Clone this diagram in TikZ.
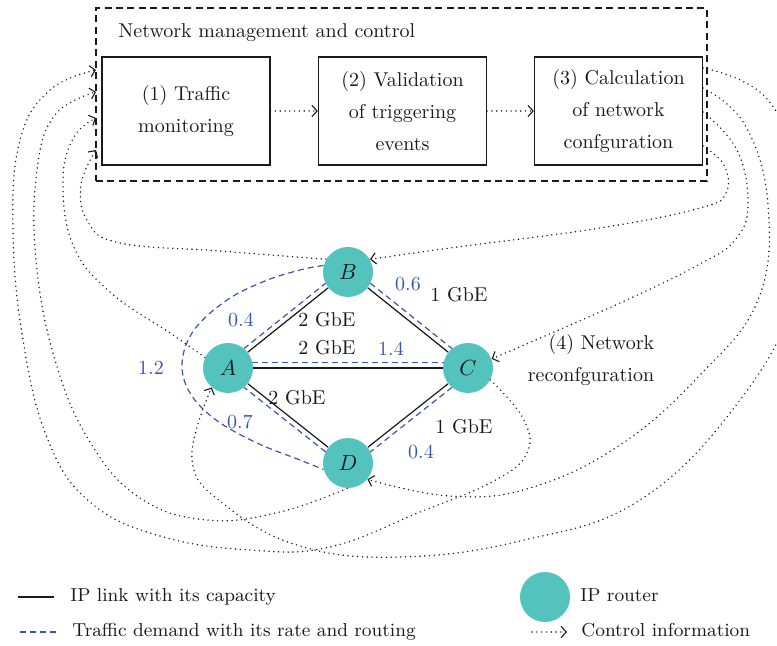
\documentclass[tikz,border=0pt]{standalone}
\usetikzlibrary{arrows.meta,calc}
\definecolor{routerteal}{HTML}{55C3BD}
\definecolor{demandblue}{HTML}{3A55AC}
\definecolor{ink}{HTML}{1A1A1A}
\pgfdeclarelayer{back}
\pgfsetlayers{back,main}
\begin{document}
\begin{tikzpicture}[x=0.5pt,y=-0.5pt,
  font=\fontsize{10}{16}\selectfont, text=ink,
  procbox/.style={draw=ink, line width=0.65pt, minimum width=84pt, minimum height=54pt, align=center, inner sep=0pt},
  ctrlframe/.style={draw=ink, line width=0.65pt, dash pattern=on 3.5pt off 2.2pt, minimum width=305.5pt, minimum height=86.5pt, inner sep=0pt},
  routernode/.style={circle, fill=routerteal, minimum size=25pt, inner sep=0pt, font=\fontsize{10.5}{12}\selectfont},
  link/.style={draw=ink, line width=0.6pt},
  demand/.style={draw=demandblue, line width=0.6pt, dash pattern=on 3pt off 2pt},
  demandedge/.style={demand, shorten <=12.2pt, shorten >=12.2pt},
  ctrlflow/.style={draw=ink, line width=0.8pt, line cap=round, dash pattern=on 0pt off 2.4pt,
    -{Straight Barb[length=2.6pt,width=5.6pt,line width=0.55pt]}},
  txt/.style={inner sep=0pt},
  legendtxt/.style={inner sep=0pt, anchor=base west, font=\fontsize{9.4}{11}\selectfont},
  ratelabel/.style={inner sep=0pt, text=demandblue},
]
\useasboundingbox (0,0) rectangle (777,646);

% management and control block
\node[ctrlframe] (frame) at (401.5,94.5) {};
\node[txt, anchor=base west] (title) at (118,38) {Network management and control};
\node[procbox] (box1) at (186,111) {(1) Traffic\\monitoring};
\node[procbox] (box2) at (402.5,111) {(2) Validation\\of triggering\\events};
\node[procbox] (box3) at (618.5,111) {(3) Calculation\\of network\\confguration};

% entry points of monitoring data and exit points of new configurations
\coordinate (inC) at (96,70);
\coordinate (inD) at (96,92);
\coordinate (inA) at (96,118);
\coordinate (inB) at (96,150);
\coordinate (outA) at (703,68);
\coordinate (outD) at (703,88);
\coordinate (outC) at (703,112);
\coordinate (outB) at (703,146);

% IP routers
\node[routernode] (A) at (228,368) {$A$};
\node[routernode] (B) at (348,272) {$B$};
\node[routernode] (C) at (468,368) {$C$};
\node[routernode] (D) at (348,463) {$D$};

\begin{pgfonlayer}{back}
  % IP links
  \draw[link] (A) -- (B);
  \draw[link] (A) -- (C);
  \draw[link] (A) -- (D);
  \draw[link] (B) -- (C);
  \draw[link] (C) -- (D);

  % traffic demands routed along the links
  \draw[demandedge] ($(A)!2.6pt!90:(B)$) -- ($(B)!2.6pt!-90:(A)$);
  \draw[demandedge] ($(A)!2.6pt!90:(C)$) -- ($(C)!2.6pt!-90:(A)$);
  \draw[demandedge] ($(B)!2.6pt!90:(C)$) -- ($(C)!2.6pt!-90:(B)$);
  \draw[demandedge] ($(C)!2.6pt!90:(D)$) -- ($(D)!2.6pt!-90:(C)$);
  \draw[demandedge] ($(D)!2.6pt!90:(A)$) -- ($(A)!2.6pt!-90:(D)$);
  \draw[demand] plot[smooth, tension=0.6] coordinates {(B.165) (300,270) (265,281) (227,300) (194,330) (182,363) (190,393) (216,420) (257,443) (300,460) (D.195)};

  % control flow inside the block
  \draw[ctrlflow] (box1) -- (box2);
  \draw[ctrlflow] (box2) -- (box3);

  % monitoring data from the routers
  \draw[ctrlflow] plot[smooth, tension=0.7] coordinates {(B.150) (220,251) (120,243) (88,222) (81,185) (inB)};
  \draw[ctrlflow] plot[smooth, tension=0.7] coordinates {(A.155) (170,333) (110,292) (73,245) (63,180) (74,137) (inA)};
  \draw[ctrlflow] plot[smooth, tension=0.7] coordinates {(D.-92) (280,512) (207,520) (140,498) (90,442) (55,360) (36,260) (37,170) (55,115) (inD)};
  \draw[ctrlflow] plot[smooth, tension=0.7] coordinates {(C.-28) (524,420) (526,455) (490,483) (420,512) (330,547) (250,550) (160,536) (90,502) (48,440) (23,340) (13,230) (20,140) (50,90) (inC)};

  % reconfiguration commands to the routers
  \draw[ctrlflow] plot[smooth, tension=0.7] coordinates {(outB) (724,165) (726,193) (700,208) (600,228) (450,248) (B.30)};
  \draw[ctrlflow] plot[smooth, tension=0.7] coordinates {(outC) (737,150) (748,205) (735,240) (700,264) (620,303) (C.21)};
  \draw[ctrlflow] plot[smooth, tension=0.7] coordinates {(outD) (745,125) (768,205) (758,300) (700,375) (620,445) (530,488) (450,496) (D.-40)};
  \draw[ctrlflow] plot[smooth, tension=0.7] coordinates {(outA) (768,100) (802,190) (795,295) (740,400) (640,500) (520,541) (400,557) (300,546) (225,505) (192,460) (A.230)};
\end{pgfonlayer}

% link capacities
\node[txt] (capAB) at (327,320) {2 GbE};
\node[txt] (capBC) at (459,295) {1 GbE};
\node[txt] (capAC) at (327,348) {2 GbE};
\node[txt] (capAD) at (297,398) {2 GbE};
\node[txt] (capCD) at (464,427) {1 GbE};

% demand rates
\node[ratelabel] (rAB) at (241,320) {0.4};
\node[ratelabel] (rBC) at (408,284) {0.6};
\node[ratelabel] (rAC) at (391,349) {1.4};
\node[ratelabel] (rBD) at (151,368) {1.2};
\node[ratelabel] (rAD) at (240,422) {0.7};
\node[ratelabel] (rCD) at (421,452) {0.4};

% reconfiguration step
\node[txt, align=right] (step4) at (591,360) {(4) Network\\reconfguration};

% legend
\coordinate (lgLinkA) at (18,597);
\coordinate (lgLinkB) at (54,597);
\coordinate (lgDemA) at (20,632);
\coordinate (lgDemB) at (56,632);
\coordinate (lgCtlA) at (532,632);
\coordinate (lgCtlB) at (567,632);
\draw[link] (lgLinkA) -- (lgLinkB);
\draw[demand] (lgDemA) -- (lgDemB);
\draw[ctrlflow] (lgCtlA) -- (lgCtlB);
\node[routernode] (lgRouter) at (545,597) {};
\node[legendtxt] (lgLinkT) at (70,602) {IP link with its capacity};
\node[legendtxt] (lgDemT) at (72,637) {Traffic demand with its rate and routing};
\node[legendtxt] (lgRouterT) at (580,602) {IP router};
\node[legendtxt] (lgCtlT) at (581,637) {Control information};
\end{tikzpicture}
\end{document}
